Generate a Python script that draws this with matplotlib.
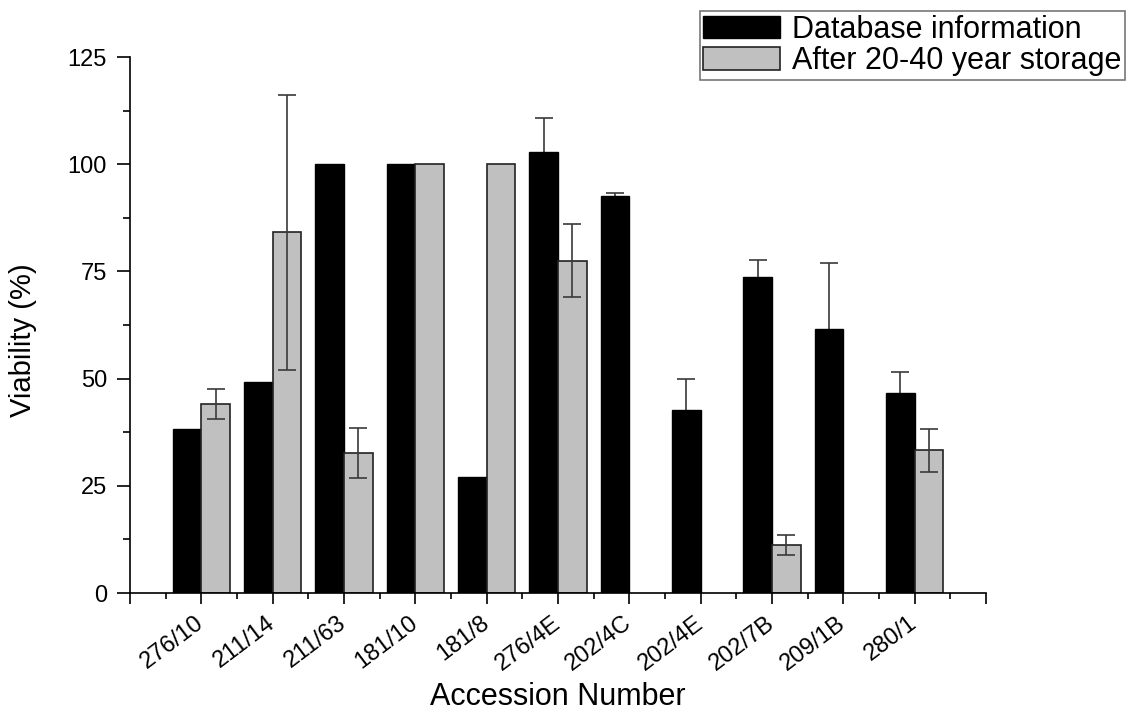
import matplotlib.pyplot as plt
import numpy as np

plt.rcParams['font.family'] = ['Liberation Sans', 'DejaVu Sans']

accessions = ['276/10', '211/14', '211/63', '181/10', '181/8', '276/4E',
              '202/4C', '202/4E', '202/7B', '209/1B', '280/1']
database = [38.2, 49.2, 100, 100, 27, 102.8, 92.7, 42.7, 73.8, 61.5, 46.6]
database_err = [0, 0, 0, 0, 0, 8, 0.6, 7.3, 3.8, 15.5, 5]
stored = [44.1, 84.1, 32.7, 100, 100, 77.5, np.nan, np.nan, 11.2, np.nan, 33.3]
stored_err = [3.5, 32, 5.8, 0, 0, 8.5, np.nan, np.nan, 2.4, np.nan, 5]

fig = plt.figure(figsize=(11.27, 7.15), dpi=100)
ax = fig.add_axes([130 / 1127, 1 - 593 / 715, 856 / 1127, 536 / 715])

x = np.arange(1, len(accessions) + 1)
w = 0.4

ax.bar(x - w / 2, database, w, color='black', edgecolor='black', linewidth=1.0,
       label='Database information', zorder=2)
ax.bar(x + w / 2, stored, w, color='#c0c0c0', edgecolor='#222222', linewidth=1.2,
       label='After 20-40 year storage', zorder=2)

# error bars: black ones sit behind their bar, grey ones on top
db_err_arr = np.array(database_err, dtype=float)
st_err_arr = np.array(stored_err, dtype=float)
m1 = db_err_arr > 0
m2 = st_err_arr > 0
ax.errorbar((x - w / 2)[m1], np.array(database)[m1], yerr=db_err_arr[m1], fmt='none',
            ecolor='#3a3a3a', elinewidth=1.2, capsize=6.5, capthick=1.2, zorder=1)
ax.errorbar((x + w / 2)[m2], np.array(stored)[m2], yerr=st_err_arr[m2], fmt='none',
            ecolor='#3a3a3a', elinewidth=1.2, capsize=6.5, capthick=1.2, zorder=3)

ax.set_xlim(0, 12)
ax.set_ylim(0, 125)
ax.set_xticks(np.arange(0, 13))
ax.set_xticklabels([''] + accessions + [''], rotation=37, ha='right',
                   va='center', rotation_mode='anchor')
ax.set_xticks(np.arange(0.5, 12, 1), minor=True)
ax.set_yticks(np.arange(0, 126, 25))
ax.set_yticks(np.arange(12.5, 125, 25), minor=True)

for s in ['top', 'right']:
    ax.spines[s].set_visible(False)
for s in ['left', 'bottom']:
    ax.spines[s].set_linewidth(1.2)

ax.tick_params(axis='y', which='major', direction='out', length=9.5, width=1.2,
               labelsize=17, pad=7)
ax.tick_params(axis='y', which='minor', direction='out', length=5, width=1.2)
ax.tick_params(axis='x', which='major', direction='out', length=8, width=1.2,
               labelsize=17, pad=12)
ax.tick_params(axis='x', which='minor', direction='out', length=4.5, width=1.2)

ax.set_xlabel('Accession Number', fontsize=22)
ax.set_ylabel('Viability (%)', fontsize=21)
ax.xaxis.set_label_coords(0.5, -0.166)
ax.yaxis.set_label_coords(-0.109, 0.472)

leg = fig.legend(loc='upper right', bbox_to_anchor=(1125 / 1127, 1 - 11 / 715),
                 fontsize=22, frameon=True, fancybox=False, borderpad=0.12,
                 labelspacing=0.05, handlelength=2.5, handleheight=0.75,
                 handletextpad=0.4, borderaxespad=0)
leg.get_frame().set_edgecolor('#555555')
leg.get_frame().set_linewidth(1.2)

fig.savefig('out.png', dpi=100)
